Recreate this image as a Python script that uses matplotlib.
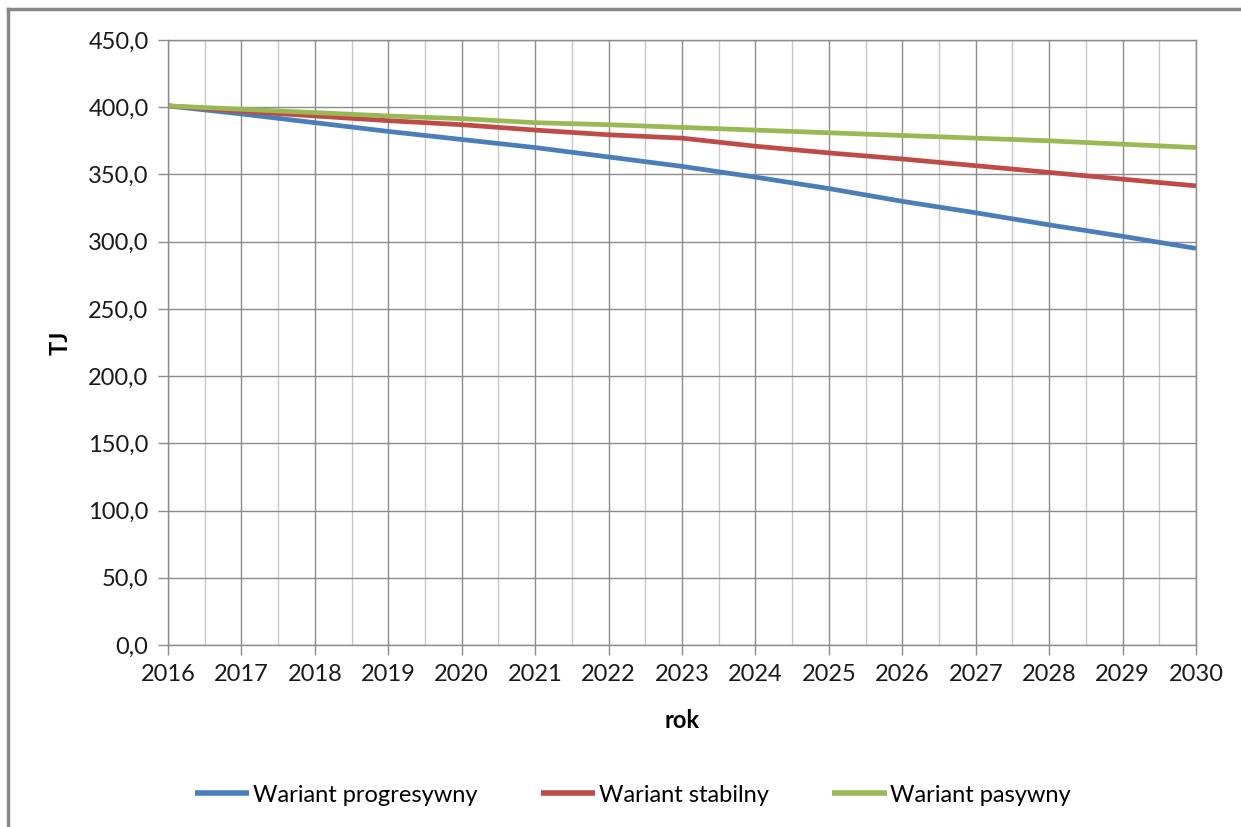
import matplotlib
matplotlib.use("Agg")
import matplotlib.pyplot as plt
from matplotlib.lines import Line2D
from matplotlib.ticker import MultipleLocator, FuncFormatter

plt.rcParams['font.family'] = ['Lato', 'DejaVu Sans']

# energy demand scenarios, TJ
years = list(range(2016, 2031))
progresywny = [401, 395, 388.5, 382, 376, 370, 363, 356, 348, 339.5, 330, 321.5, 312.5, 304, 295]
stabilny = [401, 397, 393.5, 390, 387, 383, 379.5, 377, 371, 366, 361.5, 356.5, 351.5, 346.5, 341.5]
pasywny = [401, 398.5, 396, 393.5, 391.5, 388.5, 387, 385, 383, 381, 379, 377, 375, 372.5, 370]

series_names = ["Wariant progresywny", "Wariant stabilny", "Wariant pasywny"]
colors = ["#4a7ebb", "#be4b48", "#98b954"]

fig = plt.figure(figsize=(12.41, 8.27), dpi=100)
ax = fig.add_axes([168 / 1241, 1 - 645 / 827, (1196 - 168) / 1241, (645 - 40) / 827])

for vals, name, c in zip([progresywny, stabilny, pasywny], series_names, colors):
    ax.plot(years, vals, color=c, lw=3.4, label=name, solid_capstyle='butt')

ax.set_xlim(2016, 2030)
ax.set_ylim(0, 450)
ax.xaxis.set_major_locator(MultipleLocator(1))
ax.xaxis.set_minor_locator(MultipleLocator(0.5))
ax.yaxis.set_major_locator(MultipleLocator(50))
ax.yaxis.set_major_formatter(FuncFormatter(lambda v, p: f"{v:.1f}".replace(".", ",")))

ax.grid(which='major', axis='both', color='#8c8c8c', lw=1.0)
ax.grid(which='minor', axis='x', color='#c8c8c8', lw=1.0)
ax.set_axisbelow(True)

for s in ax.spines.values():
    s.set_color('#8c8c8c')
    s.set_linewidth(1.0)

ax.tick_params(axis='both', which='major', length=7, width=1.0, color='#8c8c8c',
               labelsize=17, labelcolor='#1a1a1a', pad=7)
ax.tick_params(axis='x', which='minor', length=0)

ax.set_xlabel("rok", fontsize=17, fontweight='bold', labelpad=17)
ax.set_ylabel("TJ", fontsize=17, fontweight='bold', labelpad=12)

leg = fig.legend(loc='center', bbox_to_anchor=(0.51, 1 - 795 / 827), ncol=3, frameon=False,
                 fontsize=17, handlelength=2.3, handletextpad=0.15, columnspacing=2.7)
for h in leg.get_lines():
    h.set_linewidth(4)

# outer chart frame
fig.add_artist(Line2D([8 / 1241, 1.0], [1 - 9 / 827, 1 - 9 / 827], color='#888888', lw=2.5,
                      transform=fig.transFigure))
fig.add_artist(Line2D([8 / 1241, 8 / 1241], [0, 1 - 9 / 827], color='#888888', lw=2.5,
                      transform=fig.transFigure))

fig.savefig("out.png", dpi=100)
